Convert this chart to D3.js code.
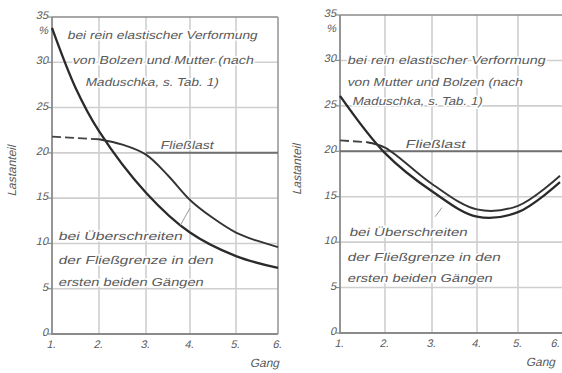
<!DOCTYPE html>
<html>
<head>
<meta charset="utf-8">
<script src="https://cdn.jsdelivr.net/npm/d3@7"></script>
<style>
  html, body { margin: 0; padding: 0; background: #fff; }
  svg { display: block; }
  text { font-family: "Liberation Sans", "DejaVu Sans", sans-serif; font-style: normal; fill: #5a5a5a; }
  .halo { paint-order: stroke; stroke: #fff; stroke-width: 3px; stroke-linejoin: round; }
</style>
</head>
<body>
<svg id="chart" width="562" height="373"></svg>
<script>
// ---------- data ----------
const gangTicks = [1, 2, 3, 4, 5, 6];
const gangLabels = ["1.", "2.", "3.", "4.", "5.", "6."];
const yTicks = [0, 5, 10, 15, 20, 25, 30, 35];
const fliesslast = 20;

// left panel
const leftElasticGang = [1, 1.5, 2, 3, 4, 5, 6];
const leftElastic = [33.8, 27.2, 22.4, 15.6, 11.2, 8.6, 7.3];
const leftPlasticGang = [1, 2, 2.5, 3, 3.5, 4, 4.5, 5, 5.5, 6];
const leftPlastic = [21.8, 21.5, 20.9, 19.8, 17.5, 14.8, 12.8, 11.2, 10.3, 9.6];
const leftDashedCount = 2; // first two points dashed

// right panel
const rightElasticGang = [1, 2, 3, 4, 5, 6];
const rightElastic = [26.1, 19.8, 15.6, 12.8, 13.3, 16.6];
const rightPlasticGang = [1, 1.6, 2, 3, 4, 5, 6];
const rightPlastic = [21.2, 21.0, 20.4, 16.4, 13.6, 14.0, 17.3];
const rightDashedCount = 2;

const leftTopText = ["bei rein elastischer Verformung", "von Bolzen und Mutter (nach", "Maduschka, s. Tab. 1)"];
const rightTopText = ["bei rein elastischer Verformung", "von Mutter und Bolzen (nach", "Maduschka, s. Tab. 1)"];
const bottomText = ["bei Überschreiten", "der Fließgrenze in den", "ersten beiden Gängen"];

const svg = d3.select("#chart");
const SKEW = -13;

// slanted text helper
function slanted(g, px, py, str, size, anchor, cls) {
  const t = g.append("text")
    .attr("transform", `translate(${px},${py}) skewX(${SKEW})`)
    .attr("x", 0).attr("y", 0)
    .attr("font-size", size)
    .attr("text-anchor", anchor || "start")
    .text(str);
  if (cls) t.attr("class", cls);
  return t;
}

function drawPanel(cfg) {
  const x = d3.scaleLinear().domain(gangTicks).range(cfg.xr);
  const y = d3.scaleLinear().domain([0, 35]).range(cfg.yr);
  const g = svg.append("g");
  const x0 = x(1), x1 = x(6), y0 = y(0), y1 = y(35);

  // grid
  g.selectAll(".vg").data(gangTicks.slice(1, 5)).join("line")
    .attr("x1", d => x(d)).attr("x2", d => x(d)).attr("y1", y0).attr("y2", y1)
    .attr("stroke", "#cfcfcf").attr("stroke-width", 1.6);
  g.selectAll(".hg").data(yTicks.slice(1, 7)).join("line")
    .attr("x1", x0).attr("x2", x1 + cfg.extendRight).attr("y1", d => y(d)).attr("y2", d => y(d))
    .attr("stroke", "#cfcfcf").attr("stroke-width", 1.6);

  // frame
  g.append("path")
    .attr("d", `M${x0},${y1}L${x0},${y0}L${x1 + cfg.extendRight},${y0}`)
    .attr("fill", "none").attr("stroke", "#8a8a8a").attr("stroke-width", 1.8);
  g.append("line").attr("x1", x0).attr("x2", x1 + cfg.extendRight).attr("y1", y1).attr("y2", y1)
    .attr("stroke", "#8a8a8a").attr("stroke-width", 1.6);
  if (cfg.rightBorder) {
    g.append("line").attr("x1", x1).attr("x2", x1).attr("y1", y1).attr("y2", y0)
      .attr("stroke", "#9a9a9a").attr("stroke-width", 1.6);
  }

  // Fließlast line
  g.append("line")
    .attr("x1", x(cfg.fliessStart)).attr("x2", x1 + cfg.extendRight)
    .attr("y1", y(fliesslast)).attr("y2", y(fliesslast))
    .attr("stroke", "#707070").attr("stroke-width", 2);

  // y ticks + labels
  g.selectAll(".yt").data(yTicks).join("line")
    .attr("x1", x0 - 4).attr("x2", x0).attr("y1", d => y(d)).attr("y2", d => y(d))
    .attr("stroke", "#8a8a8a").attr("stroke-width", 1.2);
  yTicks.forEach(d => slanted(g, x0 - 4, y(d) + 2, String(d), 11, "end"));
  slanted(g, x0 - 4, y(33.3) + 2, "%", 11, "end");

  // x labels
  gangTicks.forEach((d, i) => {
    const px = Math.min(x(d) - 1, 555);
    slanted(g, px, y0 + 14, gangLabels[i], 11, "middle");
  });
  slanted(g, Math.min(x1 + 1, 555), y0 + 33, "Gang", 12, "end");

  // y axis title
  g.append("text")
    .attr("transform", `translate(${cfg.titleX},${y(18)}) rotate(-90) skewX(${SKEW})`)
    .attr("text-anchor", "middle").attr("font-size", 12).text("Lastanteil");

  // curves
  const line = d3.line().x(d => x(d[0])).y(d => y(d[1])).curve(d3.curveCatmullRom.alpha(0.5));
  const lin = d3.line().x(d => x(d[0])).y(d => y(d[1]));
  const el = cfg.elGang.map((v, i) => [v, cfg.el[i]]);
  const pl = cfg.plGang.map((v, i) => [v, cfg.pl[i]]);
  g.append("path").attr("d", line(el)).attr("fill", "none")
    .attr("stroke", "#2a2a2a").attr("stroke-width", 2.3);
  g.append("path").attr("d", lin(pl.slice(0, cfg.dashed))).attr("fill", "none")
    .attr("stroke", "#444").attr("stroke-width", 1.8).attr("stroke-dasharray", "9,4");
  g.append("path").attr("d", line(pl.slice(cfg.dashed - 1))).attr("fill", "none")
    .attr("stroke", "#333").attr("stroke-width", 1.9);

  // leader line
  g.append("line")
    .attr("x1", x(cfg.leader[0])).attr("y1", y(cfg.leader[1]))
    .attr("x2", x(cfg.leader[2])).attr("y2", y(cfg.leader[3]))
    .attr("stroke", "#999").attr("stroke-width", 1);

  // annotations
  function lines(arr, pos) {
    arr.forEach((t, i) => {
      slanted(g, pos[i][0], pos[i][1], t, 11.5, "start", "halo")
        .attr("textLength", pos[i][2]).attr("lengthAdjust", "spacingAndGlyphs");
    });
  }
  lines(cfg.topText, cfg.topPos);
  lines(bottomText, cfg.botPos);
  slanted(g, cfg.flPos[0], cfg.flPos[1], "Fließlast", 11.5, "start", "halo")
    .attr("textLength", cfg.flPos[2]).attr("lengthAdjust", "spacingAndGlyphs");
}

drawPanel({
  xr: [52, 99, 146, 190, 236, 278], yr: [334, 17],
  extendRight: 0, rightBorder: true, fliessStart: 3, titleX: 16,
  elGang: leftElasticGang, el: leftElastic, plGang: leftPlasticGang, pl: leftPlastic, dashed: leftDashedCount,
  leader: [4.0, 13.9, 3.78, 12.0],
  topText: leftTopText,
  topPos: [[67, 39, 190], [72, 64, 181], [85, 86, 133]],
  botPos: [[58, 240, 124], [58, 264, 155], [58, 286, 145]],
  flPos: [160, 149, 53]
});

drawPanel({
  xr: [340, 385, 432, 477, 518, 560], yr: [333, 15],
  extendRight: 4, rightBorder: false, fliessStart: 1, titleX: 301,
  elGang: rightElasticGang, el: rightElastic, plGang: rightPlasticGang, pl: rightPlastic, dashed: rightDashedCount,
  leader: [3.22, 13.8, 3.07, 12.8],
  topText: rightTopText,
  topPos: [[347, 64, 198], [347, 86, 175], [352, 105, 130]],
  botPos: [[349, 236, 118], [347, 261, 153], [347, 282, 145]],
  flPos: [405, 148, 60]
});
</script>
</body>
</html>
